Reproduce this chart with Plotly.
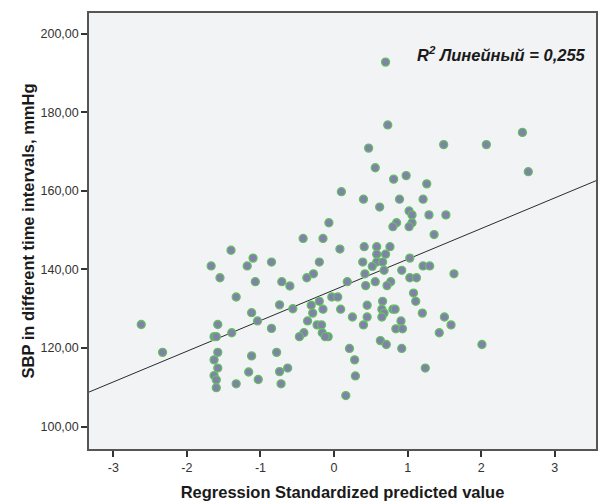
import plotly.graph_objects as go

# Regression standardized predicted value (x) and SBP, mmHg (y)
pred_std = [
    0.70, 0.73, 0.47, 1.49, 2.07, 2.56, 0.56, 2.64, 0.81, 0.98,
    1.26, 0.10, 0.40, 0.89, 1.21, 0.62, 1.02, 1.06, 1.29, 1.52,
    -0.07, 0.85, 0.80, 1.06, 1.02, 1.36, -0.42, -0.15, 0.08, 0.41,
    0.58, 0.76, 0.58, 0.70, -0.20, 0.39, 0.58, 0.66, 0.52, 1.03,
    1.21, 1.30, 0.68, 0.92, 1.63, -0.28, -0.37, 0.42, 1.03, 1.12,
    0.18, 0.56, 0.77, 0.43, 0.72, 1.08, 1.11, -0.03, 0.05, -0.20,
    -0.31, -0.15, -0.29, -0.36, 0.09, 0.45, 0.66, 0.65, 0.68, 0.80,
    0.83, 0.65, 0.45, 0.25, 0.40, 0.91, 0.84, 0.93, 1.50, 1.59,
    1.43, 1.20, 2.01, -0.41, -0.23, -0.17, -0.16, -0.08, -0.12, -0.47,
    0.63, 0.71, 0.92, 0.21, 0.28, 0.29, 1.24, 0.16,
    -1.10, -0.85, -1.07, -0.71, -0.60, -0.74, -0.56, -1.12, -1.04, -0.85,
    -1.12, -0.78, -0.74, -0.63, -1.03, -0.72, -1.40, -1.67, -1.18, -1.55,
    -1.33, -2.62, -1.58, -1.63, -1.60, -1.39, -2.33, -1.58, -1.63, -1.58,
    -1.63, -1.60, -1.60, -1.33, -1.16,
]
sbp = [
    192.8, 176.8, 170.9, 171.8, 171.8, 174.9, 165.9, 164.9, 163.0, 163.9,
    161.8, 159.8, 157.9, 157.9, 157.9, 155.9, 154.9, 153.9, 153.9, 153.9,
    151.9, 151.9, 150.9, 151.9, 150.9, 148.9, 147.9, 147.9, 145.2, 145.8,
    145.8, 145.8, 143.9, 143.9, 141.9, 141.9, 141.9, 141.9, 140.8, 142.9,
    140.9, 140.9, 139.8, 139.8, 138.9, 138.9, 137.9, 138.9, 137.9, 137.9,
    136.9, 136.9, 136.9, 135.9, 135.9, 134.0, 131.9, 133.0, 133.0, 131.9,
    130.9, 129.9, 128.9, 126.9, 129.9, 130.9, 131.9, 129.9, 128.9, 129.9,
    129.9, 127.9, 127.9, 127.9, 125.9, 126.9, 124.9, 124.9, 127.9, 125.9,
    123.9, 128.9, 120.9, 123.9, 125.9, 125.9, 123.9, 122.9, 122.9, 122.9,
    121.9, 120.9, 119.9, 119.9, 117.0, 112.9, 114.9, 107.9,
    142.9, 141.9, 136.9, 136.9, 135.8, 131.0, 130.0, 129.0, 126.9, 125.0,
    118.0, 118.9, 114.0, 114.9, 112.0, 110.9, 144.9, 140.9, 140.9, 137.9,
    133.0, 126.0, 126.0, 122.9, 122.9, 123.9, 118.9, 118.9, 117.0, 114.9,
    113.0, 111.9, 109.9, 110.9, 113.9,
]

# Linear fit
fit_intercept = 134.8
fit_slope = 7.81
r2_text = "R<sup>2</sup> Линейный = 0,255"

x_range = [-3.33, 3.56]
y_range = [94.3, 205.3]
x_ticks = [-3, -2, -1, 0, 1, 2, 3]
y_ticks = [100, 120, 140, 160, 180, 200]
y_tick_labels = ["100,00", "120,00", "140,00", "160,00", "180,00", "200,00"]

FONT = "Liberation Sans, Arial, sans-serif"

fig = go.Figure()

fig.add_trace(go.Scatter(
    x=x_range,
    y=[fit_intercept + fit_slope * v for v in x_range],
    mode="lines",
    line=dict(color="#2b2b2b", width=1),
    hoverinfo="skip",
    showlegend=False,
))

fig.add_trace(go.Scatter(
    x=pred_std, y=sbp, mode="markers",
    marker=dict(size=8, color="#8281a9", line=dict(color="#62c062", width=1.3)),
    showlegend=False,
))

fig.add_annotation(
    x=0.985, y=0.905, xref="paper", yref="paper",
    xanchor="right", yanchor="middle",
    text="<b><i>" + r2_text + "</i></b>",
    showarrow=False,
    font=dict(family=FONT, size=16.5, color="#1a1a1a"),
)

axis_common = dict(
    showgrid=False, zeroline=False,
    showline=True, linecolor="#555555", linewidth=1.5, mirror=True,
    ticks="outside", ticklen=6, tickwidth=1.5, tickcolor="#333333",
    tickfont=dict(family=FONT, size=12.5, color="#333333"),
)

fig.update_xaxes(
    range=x_range, tickmode="array", tickvals=x_ticks,
    ticktext=[str(v) for v in x_ticks],
    title=dict(text="<b>Regression Standardized predicted value</b>",
               font=dict(family=FONT, size=16.5, color="#1a1a1a"),
               standoff=13),
    **axis_common,
)
fig.update_yaxes(
    range=y_range, tickmode="array", tickvals=y_ticks, ticktext=y_tick_labels,
    title=dict(text="<b>SBP in different time intervals, mmHg</b>",
               font=dict(family=FONT, size=16.5, color="#1a1a1a"),
               standoff=2),
    **axis_common,
)

fig.update_layout(
    width=600, height=502,
    margin=dict(l=89, r=2, t=13, b=53),
    paper_bgcolor="white",
    plot_bgcolor="#f2f3f5",
)

fig.write_html("out.html")
